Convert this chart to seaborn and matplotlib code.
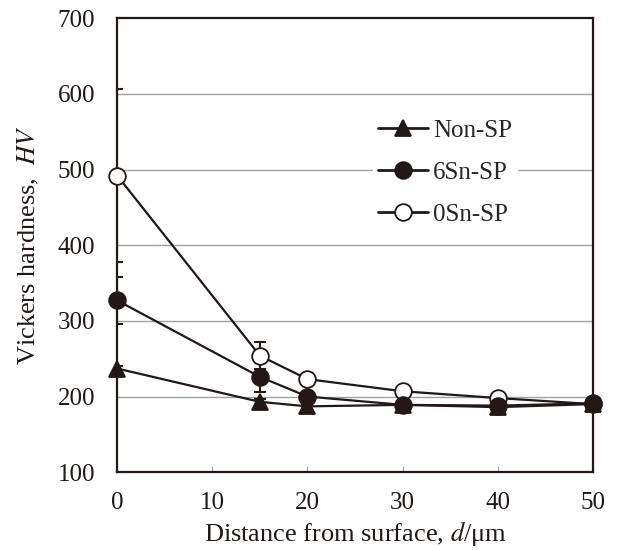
import matplotlib
matplotlib.use("Agg")
import matplotlib.pyplot as plt
import seaborn as sns
import pandas as pd

distance = [0, 15, 20, 30, 40, 50]
non_sp = [237, 193, 187, 189, 186, 190]
sn6_sp = [327, 226, 200, 189, 188, 191]
sn0_sp = [492, 254, 223, 207, 198, 190]
non_err = [4, 4, 3, 3, 3, 3]
sn6_err = [31, 20, 5, 3, 3, 3]
sn0_err = [114, 18, 6, 3, 3, 3]
series_names = ["Non-SP", "6Sn-SP", "0Sn-SP"]
x_ticks = [0, 10, 20, 30, 40, 50]
y_ticks = [100, 200, 300, 400, 500, 600, 700]

sns.set_theme(style="white")
plt.rcParams['font.family'] = ['Liberation Serif', 'DejaVu Serif']
plt.rcParams['mathtext.fontset'] = 'stix'

fig = plt.figure(figsize=(6.2, 5.51), dpi=100)
ax = fig.add_axes([0.189, 0.143, 0.767, 0.824])

rows = []
for name, vals in zip(series_names, [non_sp, sn6_sp, sn0_sp]):
    for d, v in zip(distance, vals):
        rows.append({"d": d, "HV": v, "series": name})
df = pd.DataFrame(rows)

col = "#231815"
styles = {
    "Non-SP": dict(marker="^", mfc=col, z=6),
    "6Sn-SP": dict(marker="o", mfc=col, z=5),
    "0Sn-SP": dict(marker="o", mfc="white", z=4),
}
errs = {"Non-SP": non_err, "6Sn-SP": sn6_err, "0Sn-SP": sn0_err}

for name in series_names:
    sub = df[df.series == name]
    ax.errorbar(sub.d, sub.HV, yerr=errs[name], fmt="none", ecolor=col,
                elinewidth=1.5, capsize=4, capthick=1.5, zorder=3)
for name in series_names:
    sub = df[df.series == name]
    st = styles[name]
    sns.lineplot(data=sub, x="d", y="HV", ax=ax, color=col, linewidth=1.6,
                 marker=st["marker"], markersize=12, markerfacecolor=st["mfc"],
                 markeredgecolor=col, markeredgewidth=1.3, label=name, zorder=st["z"],
                 clip_on=False)

ax.set_xlim(0, 50)
ax.set_ylim(100, 700)
ax.set_xticks(x_ticks)
ax.set_yticks(y_ticks)
for y in y_ticks[1:-1]:
    ax.axhline(y, color="#a0a0a0", linewidth=1.0, zorder=1)
for sp in ax.spines.values():
    sp.set_color(col)
    sp.set_linewidth(1.6)
ax.tick_params(axis="x", labelsize=18, labelcolor=col, direction="in", length=4,
               width=0.8, color="#a0a0a0", pad=14, bottom=True)
ax.tick_params(axis="y", labelsize=18, labelcolor=col, length=0, pad=16)
ax.set_xlabel("Distance from surface, $\\it{d}$/μm", fontsize=19, labelpad=4, color=col)
ax.set_ylabel("Vickers hardness,  $\\it{HV}$", fontsize=19, labelpad=12, color=col)

leg = ax.legend(loc="upper left", bbox_to_anchor=(0.512, 0.815), frameon=True,
                fontsize=18, handlelength=2.0, labelspacing=0.78, borderpad=0.2,
                handletextpad=0.2, fancybox=False)
leg.get_frame().set_edgecolor("white")
leg.get_frame().set_facecolor("white")
leg.get_frame().set_alpha(1)
for line in leg.get_lines():
    line.set_linewidth(2.0)

fig.savefig("out.png", dpi=100)
